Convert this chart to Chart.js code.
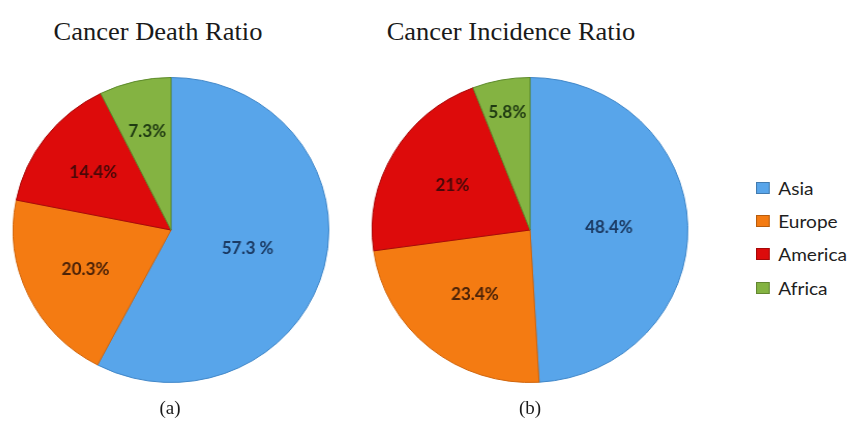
<!DOCTYPE html>
<html>
<head>
<meta charset="utf-8">
<script src="https://cdn.jsdelivr.net/npm/chart.js@4/dist/chart.umd.min.js"></script>
<style>
  html, body { margin: 0; padding: 0; background: #ffffff; }
  #stage { position: relative; width: 854px; height: 426px; overflow: hidden; background: #fff; }
  .panel { position: absolute; top: 0; width: 345px; height: 426px; }
  .title { position: absolute; font-family: "Liberation Serif", "DejaVu Serif", serif; font-size: 25px; color: #1a1a1a; white-space: nowrap; transform: translateX(-50%) scaleX(1.06); line-height: 1; }
  .caption { position: absolute; font-family: "Liberation Serif", "DejaVu Serif", serif; font-size: 19px; color: #1a1a1a; transform: translateX(-50%); line-height: 1; }
  #legend { position: absolute; left: 756px; top: 171px; margin: 0; padding: 0; list-style: none; font-family: Lato, "Open Sans", sans-serif; font-size: 18px; color: #1e1e1e; transform: scaleX(1.06); transform-origin: 0 0; }
  #legend li { display: flex; align-items: center; height: 33.4px; }
  #legend .box { display: inline-block; width: 13px; height: 12px; margin-right: 8px; box-sizing: border-box; border: 1px solid rgba(0,0,0,0.25); }
</style>
</head>
<body>
<div id="stage">
  <div class="title" style="left:158px; top:19px;">Cancer Death Ratio</div>
  <div class="title" style="left:511px; top:19px;">Cancer Incidence Ratio</div>
  <div class="panel" style="left:0px; transform: scaleX(1.035); transform-origin: 171px 230px;"><canvas id="deathChart"></canvas></div>
  <div class="panel" style="left:360px; transform: scaleX(1.035); transform-origin: 170px 230px;"><canvas id="incidenceChart"></canvas></div>
  <div class="caption" style="left:170px; top:398px;">(a)</div>
  <div class="caption" style="left:530px; top:398px;">(b)</div>
  <ul id="legend"></ul>
</div>
<script>
// Regions shown in both pies, in drawing order (clockwise from 12 o'clock)
const regions = ['Asia', 'Europe', 'America', 'Africa'];

// Share of cancer deaths by region (%)
const deathValues = [57.3, 20.3, 14.4, 7.3];

// Share of cancer incidence by region (%)
const incidenceValues = [48.4, 23.4, 21, 5.8];

// Slice label text, written from the values
const deathLabelText = deathValues.map((v, i) => i === 0 ? v + ' %' : v + '%');
const incidenceLabelText = incidenceValues.map(v => v + '%');

const sliceColors = ['#58a5ea', '#f47b12', '#dd0b0b', '#84b342'];
const sliceBorders = ['#3f86c8', '#d0650c', '#a80808', '#5c8a2a'];
const labelColors = ['#1b3a63', '#4a2208', '#4a0808', '#1f3a12'];

// Draws each slice's percentage inside the slice
const sliceLabels = {
  id: 'sliceLabels',
  afterDatasetsDraw(chart, args, opts) {
    const ctx = chart.ctx;
    const meta = chart.getDatasetMeta(0);
    ctx.save();
    ctx.font = opts.font || '16px Lato, sans-serif';
    ctx.textAlign = 'center';
    ctx.textBaseline = 'middle';
    meta.data.forEach((arc, i) => {
      const p = arc.getProps(['x', 'y', 'startAngle', 'endAngle', 'outerRadius'], true);
      const mid = (p.startAngle + p.endAngle) / 2;
      const r = p.outerRadius * opts.radial[i];
      ctx.fillStyle = opts.colors[i];
      ctx.fillText(opts.text[i], p.x + Math.cos(mid) * r, p.y + Math.sin(mid) * r);
    });
    ctx.restore();
  }
};

function makePie(canvasId, values, labelText, radial, padding) {
  return new Chart(document.getElementById(canvasId), {
    type: 'pie',
    data: {
      labels: regions,
      datasets: [{
        data: values,
        backgroundColor: sliceColors,
        borderColor: sliceBorders,
        borderWidth: 1
      }]
    },
    options: {
      responsive: true,
      maintainAspectRatio: false,
      animation: false,
      layout: { padding },
      plugins: {
        legend: { display: false },
        tooltip: { enabled: false },
        sliceLabels: { text: labelText, colors: labelColors, radial, font: 'bold 16.5px Lato, sans-serif' }
      }
    },
    plugins: [sliceLabels]
  });
}

const deathChart = makePie('deathChart', deathValues, deathLabelText,
  [0.5, 0.6, 0.62, 0.66], { left: 16, right: 19, top: 77, bottom: 43 });
const incidenceChart = makePie('incidenceChart', incidenceValues, incidenceLabelText,
  [0.5, 0.55, 0.57, 0.78], { left: 15, right: 20, top: 77, bottom: 43 });

// Shared legend built from the chart's own legend items
const legendEl = document.getElementById('legend');
const items = incidenceChart.options.plugins.legend.labels.generateLabels(incidenceChart);
items.forEach(item => {
  const li = document.createElement('li');
  const box = document.createElement('span');
  box.className = 'box';
  box.style.background = item.fillStyle;
  li.appendChild(box);
  li.appendChild(document.createTextNode(item.text));
  legendEl.appendChild(li);
});
</script>
</body>
</html>
